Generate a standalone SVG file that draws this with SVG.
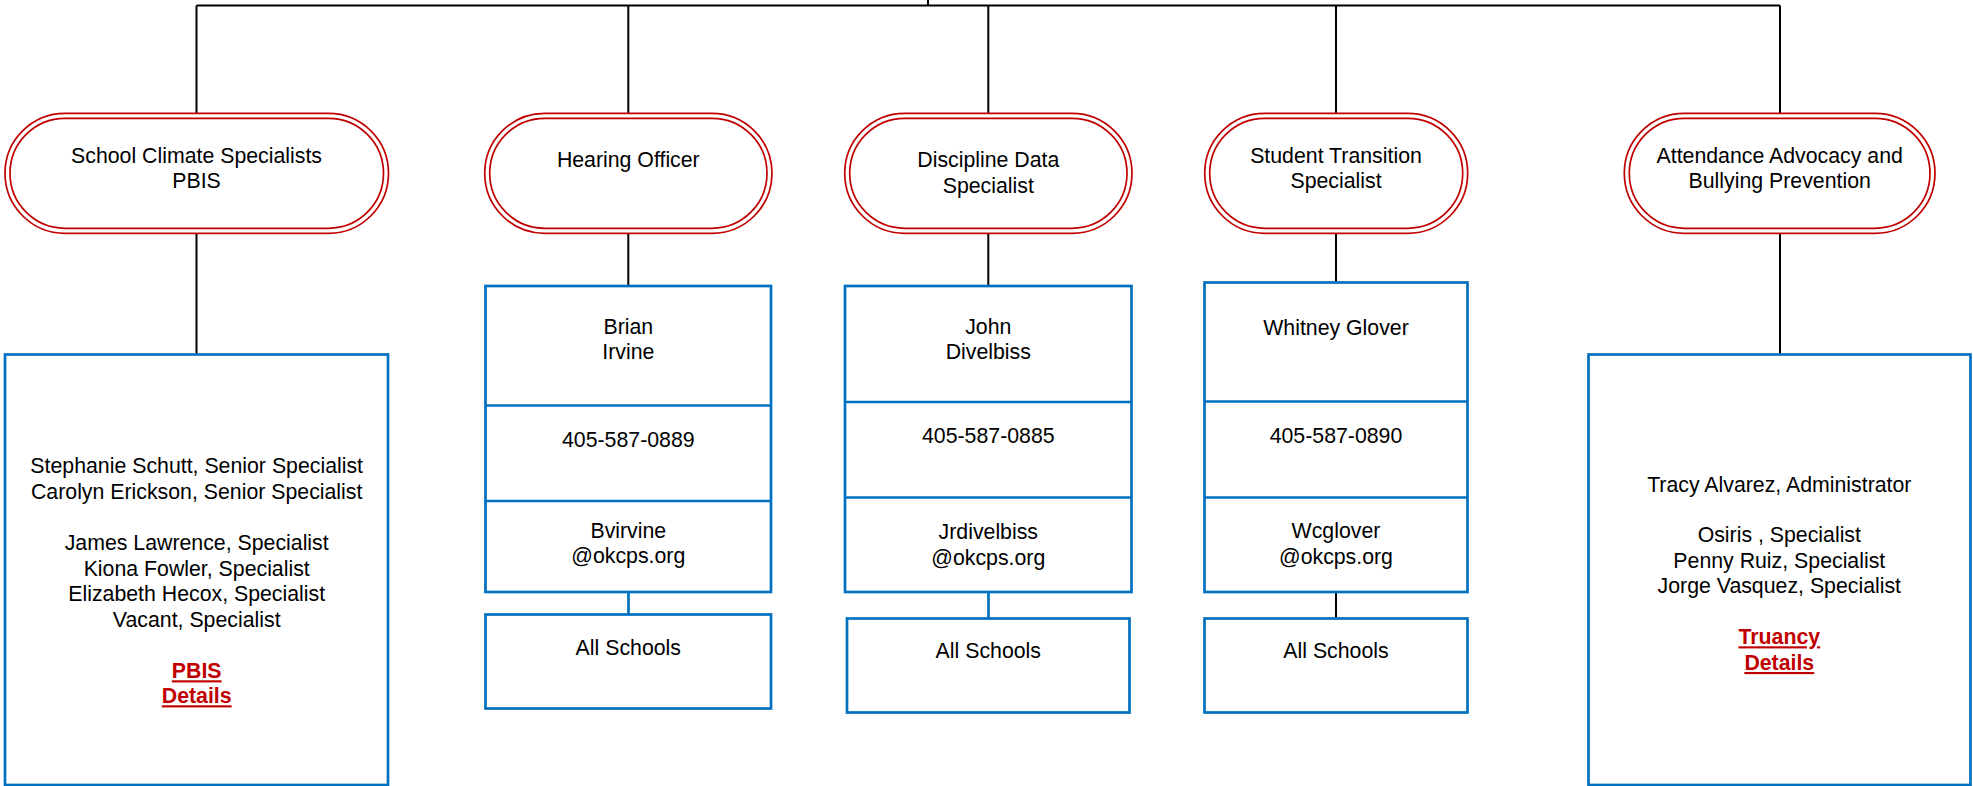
<svg xmlns="http://www.w3.org/2000/svg" width="1973" height="786" viewBox="0 0 1973 786">
<style>
  .bg { fill: #ffffff; }
  .conn { stroke: #000000; stroke-width: 2; fill: none; }
  .bconn { stroke: #0070c0; stroke-width: 2.7; fill: none; }
  .pill { fill: #ffffff; stroke: #c00000; stroke-width: 1.7; }
  .pilli { fill: none; stroke: #c00000; stroke-width: 1.7; }
  .box { fill: #ffffff; stroke: #0070c0; stroke-width: 2.7; }
  .div { stroke: #0070c0; stroke-width: 2.7; }
  text { font-family: "Liberation Sans", Arial, sans-serif; font-size: 21.3px; fill: #000000; text-anchor: middle; }
  .link { font-weight: bold; fill: #c00000; text-decoration: underline; }
</style>
<rect class="bg" x="0" y="0" width="1973" height="786"/>

<g id="connectors">
  <line class="conn" x1="928" y1="0" x2="928" y2="5.5"/>
  <line class="conn" x1="196.5" y1="5.5" x2="1780" y2="5.5"/>
  <line class="conn" x1="196.5" y1="5.5" x2="196.5" y2="113"/>
  <line class="conn" x1="628.3" y1="5.5" x2="628.3" y2="113"/>
  <line class="conn" x1="988.3" y1="5.5" x2="988.3" y2="113"/>
  <line class="conn" x1="1336" y1="5.5" x2="1336" y2="113"/>
  <line class="conn" x1="1780" y1="5.5" x2="1780" y2="113"/>
  <line class="conn" x1="196.5" y1="233.5" x2="196.5" y2="354.5"/>
  <line class="conn" x1="628.3" y1="233.5" x2="628.3" y2="286"/>
  <line class="conn" x1="988.3" y1="233.5" x2="988.3" y2="286"/>
  <line class="conn" x1="1336" y1="233.5" x2="1336" y2="282.5"/>
  <line class="conn" x1="1780" y1="233.5" x2="1780" y2="354.5"/>
  <line class="bconn" x1="628.5" y1="592" x2="628.5" y2="614.5"/>
  <line class="bconn" x1="988.5" y1="592" x2="988.5" y2="618.5"/>
  <line class="conn" x1="1336" y1="592" x2="1336" y2="618.5"/>
</g>

<g id="pill-school-climate">
  <rect class="pill" x="5" y="113.3" width="383.5" height="120" rx="60" ry="60"/>
  <rect class="pilli" x="10" y="118.3" width="373.5" height="110" rx="55" ry="55"/>
  <text x="196.5" y="162.8">School Climate Specialists</text>
  <text x="196.5" y="188.3">PBIS</text>
</g>
<g id="pill-hearing-officer">
  <rect class="pill" x="484.7" y="113.3" width="287.3" height="120" rx="60" ry="60"/>
  <rect class="pilli" x="489.7" y="118.3" width="277.3" height="110" rx="55" ry="55"/>
  <text x="628.3" y="166.7">Hearing Officer</text>
</g>
<g id="pill-discipline-data">
  <rect class="pill" x="844.7" y="113.3" width="287.3" height="120" rx="60" ry="60"/>
  <rect class="pilli" x="849.7" y="118.3" width="277.3" height="110" rx="55" ry="55"/>
  <text x="988.3" y="166.7">Discipline Data</text>
  <text x="988.3" y="192.7">Specialist</text>
</g>
<g id="pill-student-transition">
  <rect class="pill" x="1204.7" y="113.3" width="263" height="120" rx="60" ry="60"/>
  <rect class="pilli" x="1209.7" y="118.3" width="253" height="110" rx="55" ry="55"/>
  <text x="1336" y="162.7">Student Transition</text>
  <text x="1336" y="187.7">Specialist</text>
</g>
<g id="pill-attendance">
  <rect class="pill" x="1624.3" y="113.3" width="310.7" height="120" rx="60" ry="60"/>
  <rect class="pilli" x="1629.3" y="118.3" width="300.7" height="110" rx="55" ry="55"/>
  <text x="1779.7" y="162.7">Attendance Advocacy and</text>
  <text x="1779.7" y="187.7">Bullying Prevention</text>
</g>

<g id="box-pbis-staff">
  <rect class="box" x="5" y="354.5" width="383" height="430.5"/>
  <text x="196.7" y="473.3">Stephanie Schutt, Senior Specialist</text>
  <text x="196.7" y="499.3">Carolyn Erickson, Senior Specialist</text>
  <text x="196.7" y="550">James Lawrence, Specialist</text>
  <text x="196.7" y="575.7">Kiona Fowler, Specialist</text>
  <text x="196.7" y="601">Elizabeth Hecox, Specialist</text>
  <text x="196.7" y="626.7">Vacant, Specialist</text>
  <text class="link" x="196.7" y="678.3">PBIS</text>
  <text class="link" x="196.7" y="703.3">Details</text>
</g>

<g id="box-brian-irvine">
  <rect class="box" x="485.5" y="286" width="285.5" height="306"/>
  <line class="div" x1="485.5" y1="405.5" x2="771" y2="405.5"/>
  <line class="div" x1="485.5" y1="501" x2="771" y2="501"/>
  <text x="628.3" y="334">Brian</text>
  <text x="628.3" y="359.3">Irvine</text>
  <text x="628.3" y="446.7">405-587-0889</text>
  <text x="628.3" y="538.3">Bvirvine</text>
  <text x="628.3" y="563.3">@okcps.org</text>
</g>
<g id="box-brian-schools">
  <rect class="box" x="485.5" y="614.5" width="285.5" height="94"/>
  <text x="628.3" y="655">All Schools</text>
</g>

<g id="box-john-divelbiss">
  <rect class="box" x="845" y="286" width="286.5" height="306"/>
  <line class="div" x1="845" y1="402" x2="1131.5" y2="402"/>
  <line class="div" x1="845" y1="497.5" x2="1131.5" y2="497.5"/>
  <text x="988.3" y="334">John</text>
  <text x="988.3" y="359.3">Divelbiss</text>
  <text x="988.3" y="442.7">405-587-0885</text>
  <text x="988.3" y="539.3">Jrdivelbiss</text>
  <text x="988.3" y="565">@okcps.org</text>
</g>
<g id="box-john-schools">
  <rect class="box" x="847" y="618.5" width="282.5" height="94"/>
  <text x="988.3" y="658.3">All Schools</text>
</g>

<g id="box-whitney-glover">
  <rect class="box" x="1204.5" y="282.5" width="263" height="309.5"/>
  <line class="div" x1="1204.5" y1="401.5" x2="1467.5" y2="401.5"/>
  <line class="div" x1="1204.5" y1="497.5" x2="1467.5" y2="497.5"/>
  <text x="1336" y="335">Whitney Glover</text>
  <text x="1336" y="442.7">405-587-0890</text>
  <text x="1336" y="538.3">Wcglover</text>
  <text x="1336" y="564">@okcps.org</text>
</g>
<g id="box-whitney-schools">
  <rect class="box" x="1204.5" y="618.5" width="263" height="94"/>
  <text x="1336" y="658.3">All Schools</text>
</g>

<g id="box-attendance-staff">
  <rect class="box" x="1588.5" y="354.5" width="382" height="430.5"/>
  <text x="1779.3" y="491.7">Tracy Alvarez, Administrator</text>
  <text x="1779.3" y="542.3">Osiris , Specialist</text>
  <text x="1779.3" y="567.7">Penny Ruiz, Specialist</text>
  <text x="1779.3" y="593.3">Jorge Vasquez, Specialist</text>
  <text class="link" x="1779.3" y="644.3">Truancy</text>
  <text class="link" x="1779.3" y="670">Details</text>
</g>
</svg>
